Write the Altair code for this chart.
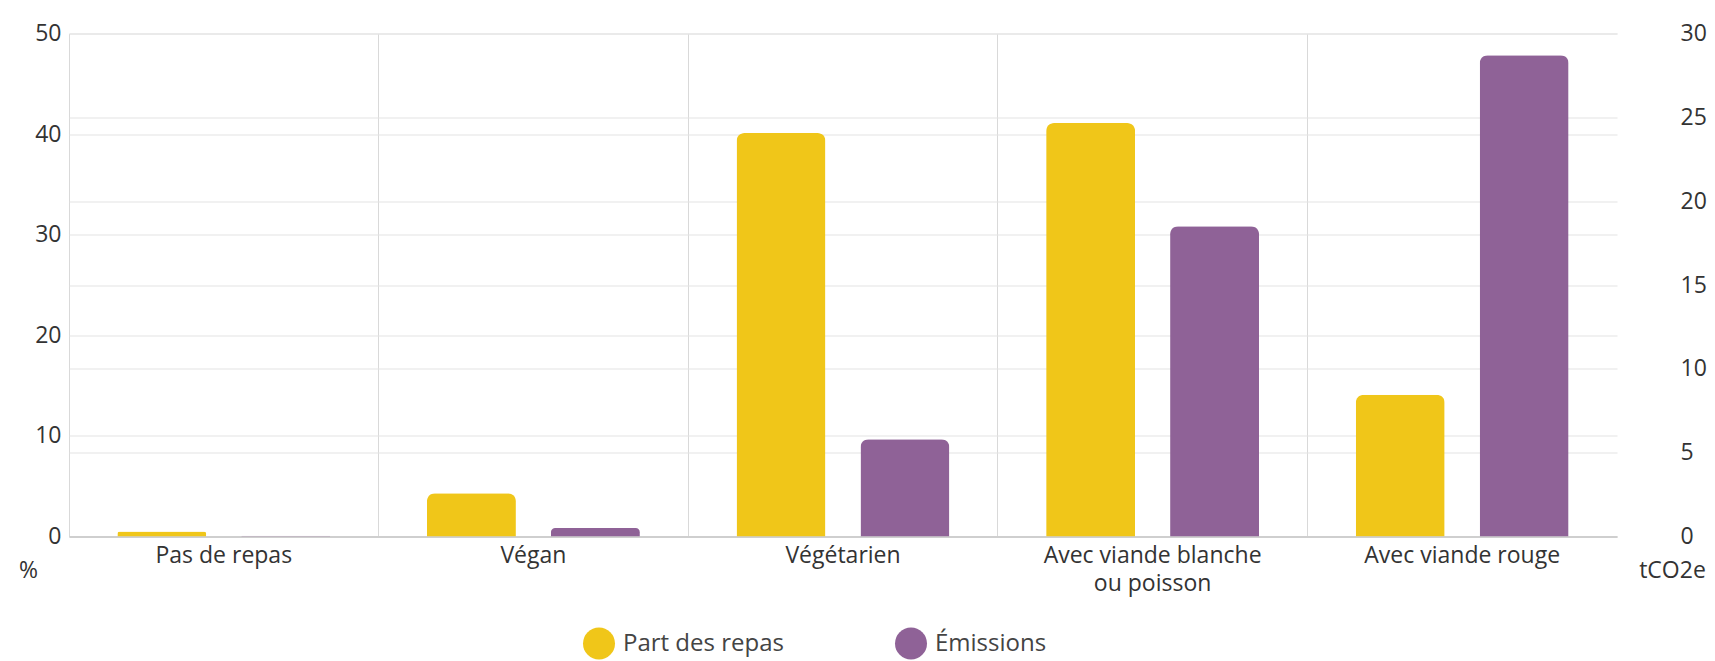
import altair as alt
import pandas as pd

# ---- data ----
categories = ["Pas de repas", "Végan", "Végétarien",
              "Avec viande blanche ou poisson", "Avec viande rouge"]
share_pct = [0.5, 4.3, 40.1, 41.1, 14.1]        # Part des repas (%)
emissions_t = [0.05, 0.5, 5.8, 18.5, 28.7]       # Émissions (tCO2e)
series = ["Part des repas", "Émissions"]
colors = ["#F0C619", "#8F6297"]
left_ticks = [0, 10, 20, 30, 40, 50]
right_ticks = [0, 5, 10, 15, 20, 25, 30]

rows = []
for c, v in zip(categories, share_pct):
    rows.append({"cat": c, "series": series[0], "value": v})
for c, v in zip(categories, emissions_t):
    rows.append({"cat": c, "series": series[1], "value": v})
df = pd.DataFrame(rows)

FONT = "Open Sans"
TXT = "#333333"

x_scale = alt.Scale(domain=categories, paddingInner=0, paddingOuter=0)
xo_scale = alt.Scale(domain=series, paddingInner=0.282, paddingOuter=0.39)
color_scale = alt.Scale(domain=series, range=colors)

legend = alt.Legend(
    orient="none", direction="horizontal", legendX=514, legendY=594,
    title=None, symbolType="circle", symbolSize=1024, symbolStrokeWidth=0,
    labelFontSize=24, labelFont=FONT, labelColor="#444444", labelOffset=8,
    columnPadding=111, labelLimit=400, padding=0, symbolOpacity=1,
)

label_expr = ("datum.label == 'Avec viande blanche ou poisson' ? "
              "['Avec viande blanche', 'ou poisson'] : datum.label")

base = alt.Chart(df).mark_bar(cornerRadiusTopLeft=8, cornerRadiusTopRight=8)

left = base.transform_filter(alt.datum.series == series[0]).encode(
    x=alt.X("cat:N", scale=x_scale,
            axis=alt.Axis(title=None, orient="bottom", labelAngle=0,
                          labelExpr=label_expr, grid=False, ticks=False,
                          domain=True, domainColor="#CFCFCF", domainWidth=2,
                          labelPadding=8, labelLineHeight=28,
                          labelBaseline="top", labelLimit=400)),
    xOffset=alt.XOffset("series:N", scale=xo_scale),
    y=alt.Y("value:Q", scale=alt.Scale(domain=[0, 50], nice=False),
            axis=alt.Axis(title="%", values=left_ticks, orient="left",
                          grid=True, domain=False, ticks=False, tickSize=0,
                          labelPadding=8, titleX=-41, titleY=536.5,
                          titleAngle=0, titleAlign="center",
                          titleBaseline="middle")),
    color=alt.Color("series:N", scale=color_scale, legend=legend),
)

right = base.transform_filter(alt.datum.series == series[1]).encode(
    x=alt.X("cat:N", scale=x_scale,
            axis=alt.Axis(title=None, orient="top", labels=False, ticks=False,
                          domain=False, grid=True, bandPosition=0,
                          gridColor="#D9D9D9")),
    xOffset=alt.XOffset("series:N", scale=xo_scale),
    y=alt.Y("value:Q", scale=alt.Scale(domain=[0, 30], nice=False),
            axis=alt.Axis(title="tCO2e", values=right_ticks, orient="right",
                          grid=True, domain=False, ticks=False, tickSize=0,
                          labelAlign="left", labelPadding=63,
                          titleX=55, titleY=536.5, titleAngle=0,
                          titleAlign="center", titleBaseline="middle")),
    color=alt.Color("series:N", scale=color_scale, legend=legend),
)

chart = (
    alt.layer(left, right)
    .resolve_scale(y="independent")
    .resolve_axis(x="independent", y="independent")
    .properties(
        width=1548, height=503,
        autosize=alt.AutoSizeParams(type="none"),
        padding={"left": 61, "top": 25.5, "right": 90, "bottom": 123},
        background="white",
    )
    .configure_view(stroke=None)
    .configure_axis(labelFont=FONT, labelFontSize=23, labelColor=TXT,
                    titleFont=FONT, titleFontSize=23, titleColor=TXT,
                    titleFontWeight="normal", gridColor="#E3E3E3",
                    gridWidth=1)
)

chart.save("out.html", embed_options={"renderer": "svg", "actions": False})
